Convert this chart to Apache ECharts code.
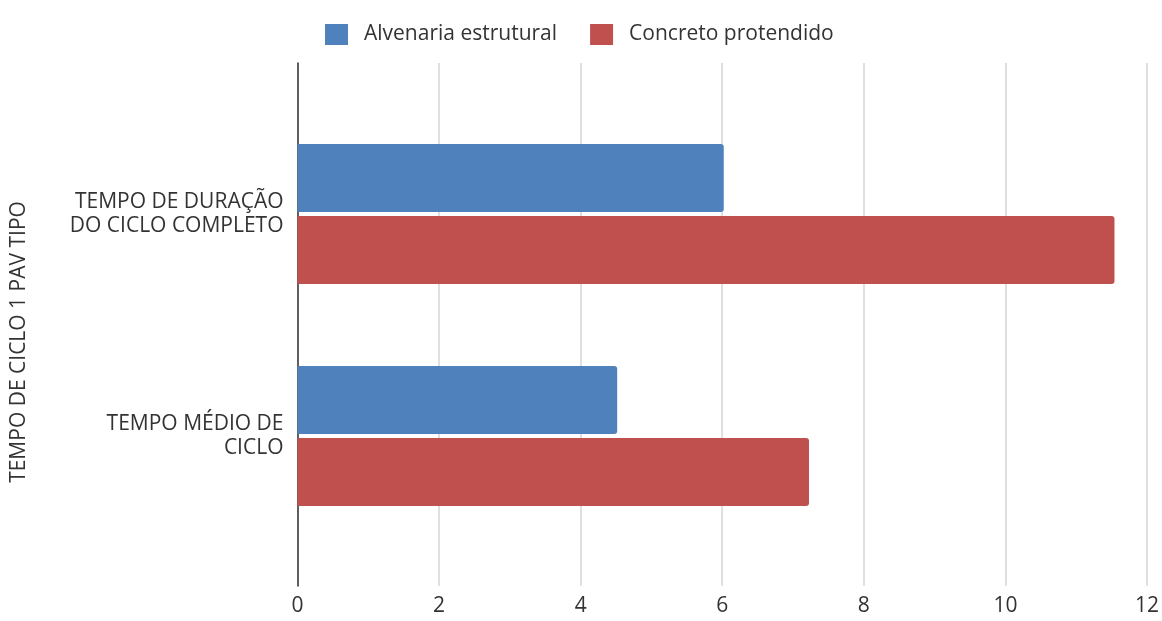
<!DOCTYPE html>
<html>
<head>
<meta charset="utf-8">
<script src="https://cdn.jsdelivr.net/npm/echarts@6/dist/echarts.min.js"></script>
<style>
html,body{margin:0;padding:0;background:#fff;}
#chart{width:1162px;height:621px;}
</style>
</head>
<body>
<div id="chart"></div>
<script>
const categories = ['TEMPO DE DURAÇÃO\nDO CICLO COMPLETO', 'TEMPO MÉDIO DE\nCICLO'];
const seriesNames = ['Alvenaria estrutural', 'Concreto protendido'];
const alvenaria = [6, 4.5];
const concreto = [11.5, 7.2];
const xTicks = [0, 2, 4, 6, 8, 10, 12];
const yAxisTitle = 'TEMPO DE CICLO 1 PAV TIPO';
const colors = ['#4f81bd', '#c0504d'];

const FONT = 'Open Sans';
const FS = 21;
const chart = echarts.init(document.getElementById('chart'));
chart.setOption({
  animation: false,
  color: colors,
  textStyle: { fontFamily: FONT },
  legend: {
    left: 320, top: 19,
    itemWidth: 23, itemHeight: 21, itemGap: 33,
    icon: 'rect',
    data: seriesNames,
    textStyle: { fontSize: FS, color: '#333', fontFamily: FONT, padding: [0, 0, 0, 11] }
  },
  grid: [
    { left: 297.5, right: 12, top: 63, bottom: 35, containLabel: false },
    { left: 297.5, right: 12, top: 103, bottom: 74, containLabel: false }
  ],
  xAxis: [
    {
      gridIndex: 0, type: 'value', min: xTicks[0], max: xTicks[xTicks.length - 1], interval: 2,
      axisLine: { show: false }, axisTick: { show: false },
      splitLine: { show: true, lineStyle: { color: '#d4d4d4', width: 1.5 } },
      axisLabel: { fontSize: FS, color: '#333', margin: 10, fontFamily: FONT }
    },
    {
      gridIndex: 1, type: 'value', min: xTicks[0], max: xTicks[xTicks.length - 1], interval: 2, show: false,
      splitLine: { show: false }
    }
  ],
  yAxis: [
    {
      gridIndex: 0, type: 'value', min: 0, max: 1,
      axisLine: { show: true, lineStyle: { color: '#333', width: 1.5 } },
      axisTick: { show: false }, axisLabel: { show: false }, splitLine: { show: false }
    },
    {
      gridIndex: 1, type: 'category', inverse: true, data: categories,
      axisLine: { show: false }, axisTick: { show: false },
      axisLabel: { fontSize: FS, color: '#333', margin: 14, lineHeight: 24, align: 'right', fontFamily: FONT }
    }
  ],
  graphic: [{
    type: 'text', x: 19, y: 342, rotation: Math.PI / 2,
    style: { text: yAxisTitle, fontSize: FS, fill: '#333', fontFamily: FONT, align: 'center', verticalAlign: 'middle' }
  }],
  series: [
    {
      name: seriesNames[0], type: 'bar', xAxisIndex: 1, yAxisIndex: 1, data: alvenaria,
      barWidth: 68, barGap: '6%', itemStyle: { color: colors[0], borderRadius: [0, 3, 3, 0] }
    },
    {
      name: seriesNames[1], type: 'bar', xAxisIndex: 1, yAxisIndex: 1, data: concreto,
      barWidth: 68, barGap: '6%', itemStyle: { color: colors[1], borderRadius: [0, 3, 3, 0] }
    }
  ]
});
</script>
</body>
</html>
